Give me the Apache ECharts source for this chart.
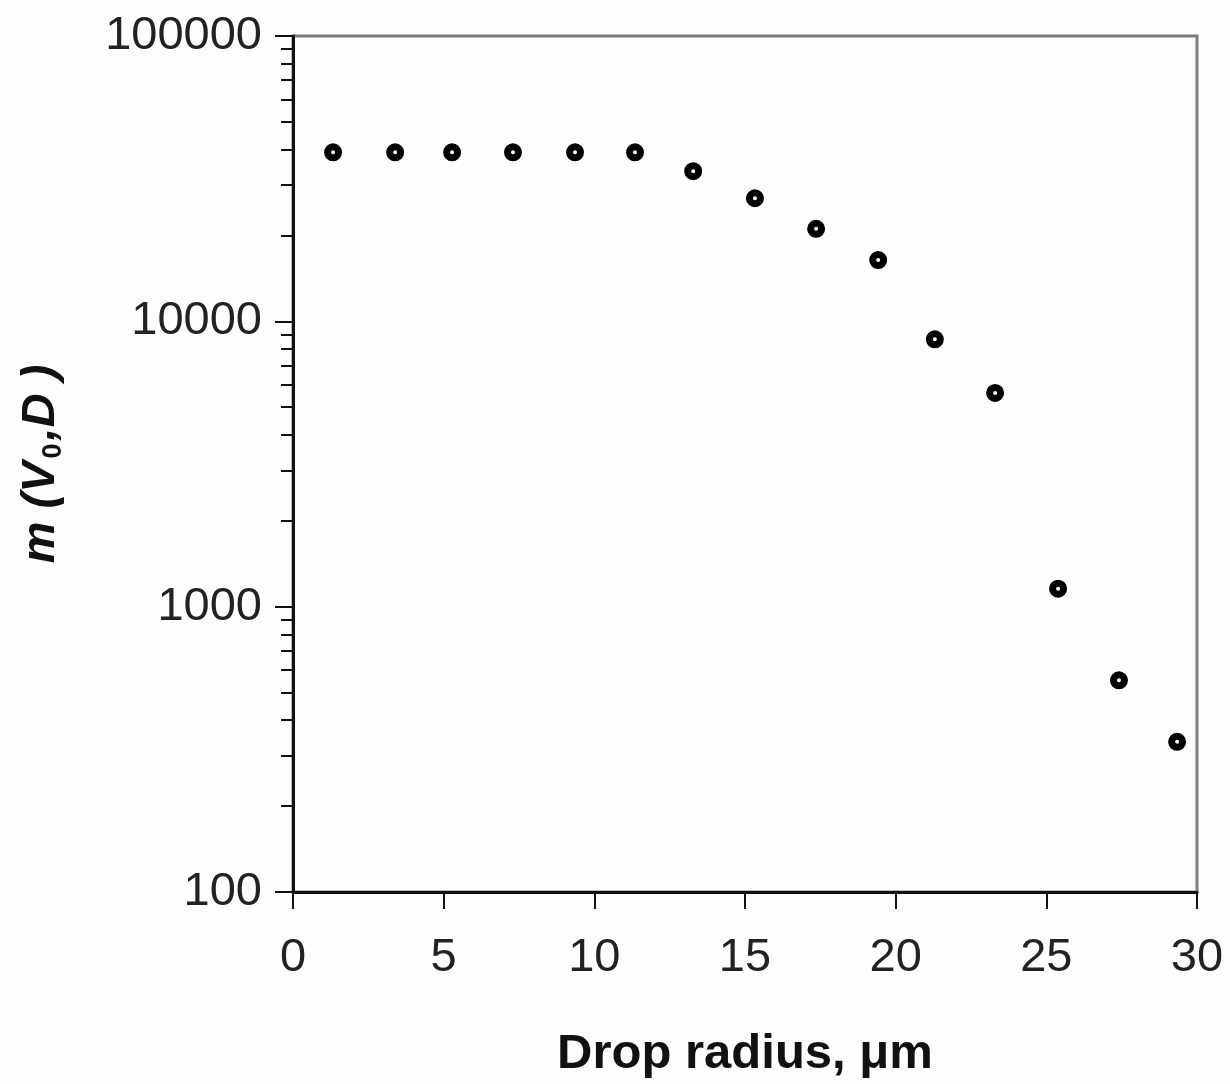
<!DOCTYPE html>
<html>
<head>
<meta charset="utf-8">
<script src="https://cdn.jsdelivr.net/npm/echarts@6/dist/echarts.min.js"></script>
<style>html,body{margin:0;padding:0;background:#fbfdff;}#c{width:1230px;height:1084px;}</style>
</head>
<body>
<div id="c"></div>
<script>
const radius = [1.33, 3.39, 5.28, 7.30, 9.36, 11.35, 13.28, 15.33, 17.36, 19.42, 21.30, 23.30, 25.39, 27.41, 29.34];
const mValues = [39100, 39100, 39100, 39100, 39100, 39100, 33600, 27000, 21100, 16400, 8650, 5610, 1156, 552, 336];
const yMajorTicks = [100, 1000, 10000, 100000];
const yMinorTicks = [200,300,400,500,600,700,800,900,2000,3000,4000,5000,6000,7000,8000,9000,20000,30000,40000,50000,60000,70000,80000,90000];
const xTicks = [0, 5, 10, 15, 20, 25, 30];

const chart = echarts.init(document.getElementById('c'));
const font = 'Liberation Sans, Arial, sans-serif';
chart.setOption({
  backgroundColor: '#fbfdff',
  animation: false,
  grid: { left: 293, width: 904, top: 36, height: 860, show: true, borderColor: '#7d7d7d', borderWidth: 3, backgroundColor: 'transparent' },
  xAxis: {
    type: 'value', min: 0, max: 30, interval: 5,
    axisLine: { lineStyle: { color: '#111', width: 3 } },
    axisTick: { show: true, length: 17, lineStyle: { color: '#111', width: 2 }, customValues: xTicks },
    axisLabel: { fontFamily: font, fontSize: 47, color: '#222', margin: 43, customValues: xTicks, formatter: v => String(v) },
    splitLine: { show: false },
    name: 'Drop radius, \u03bcm', nameLocation: 'middle', nameGap: 138,
    nameTextStyle: { fontFamily: font, fontSize: 49, fontWeight: 'bold', color: '#111' }
  },
  yAxis: [{
    type: 'log', logBase: 10, min: 100, max: 100000,
    axisLine: { show: true, lineStyle: { color: '#111', width: 3 } },
    axisTick: { show: true, length: 18, lineStyle: { color: '#111', width: 2 }, customValues: yMajorTicks },
    axisLabel: { fontFamily: font, fontSize: 47, color: '#222', margin: 31, customValues: yMajorTicks, formatter: v => String(Math.round(v)) },
    splitLine: { show: false },
    name: '{it|m (V}{sub|0}{it|,D )}', nameLocation: 'middle', nameRotate: 90, nameGap: 226,
    nameTextStyle: {
      rich: {
        it: { fontFamily: font, fontSize: 47, fontWeight: 'bold', fontStyle: 'italic', color: '#111', lineHeight: 52 },
        sub: { fontFamily: font, fontSize: 27, fontWeight: 'bold', color: '#111', lineHeight: 52, verticalAlign: 'bottom', padding: [14, 3, 0, 3] }
      }
    }
  }, {
    type: 'log', logBase: 10, min: 100, max: 100000, position: 'left',
    axisLine: { show: false },
    axisTick: { show: true, length: 12, lineStyle: { color: '#111', width: 2 }, customValues: yMinorTicks },
    axisLabel: { show: false },
    splitLine: { show: false }
  }],
  series: [{
    type: 'scatter',
    data: radius.map((r, i) => [r, mValues[i]]),
    symbol: 'circle', symbolSize: 11,
    itemStyle: { color: '#fff', borderColor: '#000', borderWidth: 7, opacity: 1 }
  }]
});
</script>
</body>
</html>
